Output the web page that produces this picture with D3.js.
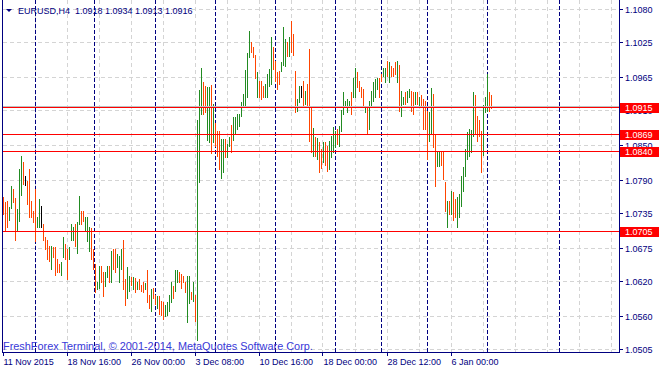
<!DOCTYPE html>
<html>
<head>
<meta charset="utf-8">
<script src="https://cdnjs.cloudflare.com/ajax/libs/d3/7.8.5/d3.min.js"></script>
<style>
body { margin: 0; background: #fff; }
svg { display: block; font-family: "Liberation Sans", Arial, sans-serif; }
</style>
</head>
<body>
<svg id="chart" width="659" height="373"></svg>
<script>
// EURUSD H4 bars, one entry per bar, oldest first
var highs = [
    1.0762, 1.0753, 1.0755, 1.0745, 1.0780, 1.0775, 1.0760, 1.0741, 1.0809, 1.0831,
    1.0821, 1.0797, 1.0789, 1.0809, 1.0755, 1.0738, 1.0775, 1.0728, 1.0758, 1.0746,
    1.0716, 1.0694, 1.0690, 1.0679, 1.0679, 1.0677, 1.0677, 1.0657, 1.0648, 1.0652,
    1.0694, 1.0682, 1.0674, 1.0677, 1.0716, 1.0712, 1.0716, 1.0719, 1.0763, 1.0738,
    1.0738, 1.0728, 1.0728, 1.0711, 1.0709, 1.0674, 1.0648, 1.0619, 1.0645, 1.0645,
    1.0635, 1.0636, 1.0645, 1.0645, 1.0670, 1.0674, 1.0674, 1.0665, 1.0663, 1.0674,
    1.0689, 1.0623, 1.0643, 1.0628, 1.0626, 1.0626, 1.0625, 1.0619, 1.0623, 1.0614,
    1.0618, 1.0616, 1.0638, 1.0597, 1.0606, 1.0609, 1.0596, 1.0594, 1.0594, 1.0586,
    1.0584, 1.0579, 1.0584, 1.0597, 1.0619, 1.0611, 1.0638, 1.0638, 1.0635, 1.0631,
    1.0628, 1.0618, 1.0628, 1.0628, 1.0601, 1.0618, 1.0597, 1.0893, 1.0943, 1.0981,
    1.0956, 1.0949, 1.0948, 1.0948, 1.0951, 1.0919, 1.0888, 1.0873, 1.0873, 1.0860,
    1.0860, 1.0860, 1.0851, 1.0863, 1.0883, 1.0897, 1.0897, 1.0902, 1.0902, 1.0922,
    1.0937, 1.0976, 1.1005, 1.1042, 1.1025, 1.1015, 1.1003, 1.0973, 1.0958, 1.0958,
    1.0949, 1.0953, 1.0970, 1.0978, 1.1032, 1.1015, 1.0992, 1.0973, 1.0975, 1.0990,
    1.1049, 1.1029, 1.1025, 1.1032, 1.1059, 1.1037, 1.0975, 1.0927, 1.0949, 1.0949,
    1.0958, 1.0941, 1.0953, 1.1012, 1.0914, 1.0878, 1.0863, 1.0861, 1.0855, 1.0843,
    1.0855, 1.0855, 1.0848, 1.0856, 1.0865, 1.0880, 1.0873, 1.0877, 1.0882, 1.0910,
    1.0939, 1.0924, 1.0927, 1.0924, 1.0939, 1.0964, 1.0981, 1.0973, 1.0958, 1.0948,
    1.0944, 1.0915, 1.0914, 1.0924, 1.0941, 1.0956, 1.0961, 1.0964, 1.0964, 1.0970,
    1.0981, 1.0981, 1.0992, 1.0990, 1.0983, 1.0981, 1.0990, 1.0992, 1.0986, 1.0941,
    1.0932, 1.0939, 1.0941, 1.0944, 1.0941, 1.0939, 1.0939, 1.0939, 1.0932, 1.0934,
    1.0927, 1.0924, 1.0907, 1.0905, 1.0946, 1.0936, 1.0868, 1.0839, 1.0838, 1.0838,
    1.0838, 1.0787, 1.0755, 1.0755, 1.0772, 1.0770, 1.0758, 1.0762, 1.0767, 1.0797,
    1.0812, 1.0843, 1.0872, 1.0877, 1.0875, 1.0939, 1.0934, 1.0899, 1.0892, 1.0873,
    1.0917, 1.0931, 1.0970, 1.0939, 1.0934
];
var lows = [
    1.0733, 1.0704, 1.0712, 1.0724, 1.0743, 1.0753, 1.0690, 1.0707, 1.0721, 1.0765,
    1.0784, 1.0782, 1.0750, 1.0729, 1.0729, 1.0719, 1.0687, 1.0712, 1.0712, 1.0712,
    1.0690, 1.0674, 1.0657, 1.0653, 1.0641, 1.0660, 1.0630, 1.0635, 1.0635, 1.0630,
    1.0660, 1.0657, 1.0623, 1.0657, 1.0689, 1.0690, 1.0679, 1.0668, 1.0716, 1.0716,
    1.0721, 1.0707, 1.0687, 1.0670, 1.0657, 1.0641, 1.0601, 1.0606, 1.0609, 1.0619,
    1.0594, 1.0611, 1.0626, 1.0619, 1.0619, 1.0641, 1.0636, 1.0643, 1.0619, 1.0640,
    1.0606, 1.0579, 1.0592, 1.0603, 1.0614, 1.0606, 1.0601, 1.0606, 1.0606, 1.0603,
    1.0601, 1.0606, 1.0584, 1.0575, 1.0569, 1.0591, 1.0581, 1.0575, 1.0564, 1.0562,
    1.0555, 1.0560, 1.0562, 1.0570, 1.0584, 1.0591, 1.0603, 1.0618, 1.0619, 1.0609,
    1.0618, 1.0601, 1.0550, 1.0582, 1.0589, 1.0586, 1.0552, 1.0521, 1.0787, 1.0902,
    1.0902, 1.0905, 1.0858, 1.0855, 1.0836, 1.0855, 1.0848, 1.0831, 1.0809, 1.0795,
    1.0804, 1.0829, 1.0829, 1.0848, 1.0839, 1.0858, 1.0868, 1.0877, 1.0882, 1.0899,
    1.0914, 1.0914, 1.0932, 1.0998, 1.1007, 1.0998, 1.0964, 1.0931, 1.0931, 1.0927,
    1.0931, 1.0932, 1.0932, 1.0949, 1.0953, 1.0978, 1.0958, 1.0944, 1.0953, 1.0975,
    1.0986, 1.0983, 1.1000, 1.1000, 1.1008, 1.1003, 1.0905, 1.0907, 1.0922, 1.0932,
    1.0915, 1.0919, 1.0914, 1.0856, 1.0839, 1.0831, 1.0831, 1.0826, 1.0804, 1.0811,
    1.0821, 1.0817, 1.0806, 1.0809, 1.0829, 1.0838, 1.0846, 1.0851, 1.0848, 1.0873,
    1.0902, 1.0914, 1.0905, 1.0917, 1.0902, 1.0931, 1.0932, 1.0948, 1.0941, 1.0931,
    1.0914, 1.0905, 1.0868, 1.0877, 1.0915, 1.0924, 1.0932, 1.0944, 1.0931, 1.0958,
    1.0966, 1.0956, 1.0966, 1.0956, 1.0966, 1.0966, 1.0970, 1.0956, 1.0907, 1.0899,
    1.0919, 1.0919, 1.0922, 1.0932, 1.0907, 1.0902, 1.0919, 1.0919, 1.0915, 1.0914,
    1.0877, 1.0877, 1.0826, 1.0856, 1.0868, 1.0846, 1.0780, 1.0814, 1.0814, 1.0817,
    1.0792, 1.0738, 1.0711, 1.0733, 1.0733, 1.0724, 1.0729, 1.0712, 1.0729, 1.0746,
    1.0772, 1.0797, 1.0826, 1.0831, 1.0839, 1.0865, 1.0868, 1.0856, 1.0865, 1.0804,
    1.0833, 1.0905, 1.0907, 1.0907, 1.0913
];
// u = up bar, d = down bar, n = unchanged
var barDir = ("ddduudduuu" + "dnddddduun" + "dddduddddu" + "udduuuduud" + "duuuddduud" +
    "duududduuu" + "dduudududd" + "dudduddudd" + "duuuuduudd" + "dduududuuu" +
    "dduududddu" + "uduuduuuuu" + "uuuudddudd" + "duuuuddddu" + "uududdduun" +
    "dudddududd" + "udduuuuduu" + "uuuuduuddd" + "duduuuuudd" + "uududddudu" +
    "uduuddudud" + "ddduudduud" + "ddududduuu" + "uuuuuudddd" + "uuudd").split("");

var priceTicks = [1.1080, 1.1025, 1.0965, 1.0910, 1.0850, 1.0790, 1.0735, 1.0675, 1.0620, 1.0560, 1.0505];
var timeLabels = ["11 Nov 2015", "18 Nov 16:00", "26 Nov 00:00", "3 Dec 08:00", "10 Dec 16:00", "18 Dec 00:00", "28 Dec 12:00", "6 Jan 00:00"];
var timeLabelBars = [0, 32, 64, 96, 128, 160, 192, 224];
var separatorBars = [16, 46, 76, 106, 136, 166, 189, 212, 242, 278];
var levelPrices = [1.0915, 1.0869, 1.0840, 1.0705];
var bidPrice = 1.0916;
var symbolName = "EURUSD,H4";
var lastOhlc = [1.0918, 1.0934, 1.0913, 1.0916];

var navy = "#000080";
var barColors = { u: "#228b22", d: "#ff4500", n: "#000000" };

var svg = d3.select("#chart");
var width = +svg.attr("width");

var x = d3.scaleLinear().domain([0, 308]).range([3, 619]);
var y = d3.scaleLinear().domain([1.0505, 1.1080]).range([349.5, 9.5]);

function px(v) { return Math.floor(v) + 0.5; }

var plotRight = 619, plotBottom = 352;

svg.append("rect").attr("width", width).attr("height", 373).attr("fill", "#fff");

// grid
svg.append("g").selectAll("line")
    .data(priceTicks)
    .enter().append("line")
    .attr("x1", 3).attr("x2", plotRight)
    .attr("y1", function(d) { return px(y(d)); })
    .attr("y2", function(d) { return px(y(d)); })
    .attr("stroke", "#d4d4d4")
    .attr("stroke-dasharray", "4,3");

svg.append("g").selectAll("line")
    .data(d3.range(16, 308, 16))
    .enter().append("line")
    .attr("x1", function(d) { return px(x(d)); })
    .attr("x2", function(d) { return px(x(d)); })
    .attr("y1", 0).attr("y2", plotBottom)
    .attr("stroke", "#d4d4d4")
    .attr("stroke-dasharray", "4,3");

// period separators
svg.append("g").selectAll("line")
    .data(separatorBars)
    .enter().append("line")
    .attr("x1", function(d) { return px(x(d)); })
    .attr("x2", function(d) { return px(x(d)); })
    .attr("y1", 0).attr("y2", plotBottom)
    .attr("stroke", navy)
    .attr("stroke-dasharray", "4,2");

// bars (high-low)
svg.append("g").selectAll("rect")
    .data(highs)
    .enter().append("rect")
    .attr("x", function(d, i) { return x(i); })
    .attr("width", 1)
    .attr("y", function(d) { return Math.floor(y(d)); })
    .attr("height", function(d, i) { return Math.floor(y(lows[i])) - Math.floor(y(d)) + 1; })
    .attr("fill", function(d, i) { return barColors[barDir[i]]; });

// bid line + horizontal levels
svg.append("line")
    .attr("x1", 3).attr("x2", plotRight)
    .attr("y1", px(y(bidPrice))).attr("y2", px(y(bidPrice)))
    .attr("stroke", "#c0c0c0");

svg.append("g").selectAll("line")
    .data(levelPrices)
    .enter().append("line")
    .attr("x1", 3).attr("x2", plotRight)
    .attr("y1", function(d) { return px(y(d)); })
    .attr("y2", function(d) { return px(y(d)); })
    .attr("stroke", "#ff0000");

// frame
svg.append("path")
    .attr("d", "M2.5,0V" + (plotBottom + 1) + "M2," + (plotBottom + 0.5) + "H" + (plotRight + 1) + "M" + (plotRight + 0.5) + ",0V" + (plotBottom + 1))
    .attr("stroke", navy)
    .attr("fill", "none");

// price axis
svg.append("g").selectAll("line")
    .data(priceTicks)
    .enter().append("line")
    .attr("x1", plotRight + 1).attr("x2", plotRight + 4)
    .attr("y1", function(d) { return px(y(d)); })
    .attr("y2", function(d) { return px(y(d)); })
    .attr("stroke", navy);

svg.append("g").selectAll("text")
    .data(priceTicks)
    .enter().append("text")
    .attr("x", 625)
    .attr("y", function(d) { return Math.floor(y(d)) + 3.5; })
    .attr("font-size", "9px")
    .attr("fill", navy)
    .text(function(d) { return d.toFixed(4); });

// level labels
var box = svg.append("g").selectAll("g")
    .data(levelPrices)
    .enter().append("g");

box.append("rect")
    .attr("x", plotRight + 1)
    .attr("y", function(d) { return Math.floor(y(d)) - 4; })
    .attr("width", width - plotRight - 1)
    .attr("height", 10)
    .attr("fill", "#ff0000");

box.append("text")
    .attr("x", 625)
    .attr("y", function(d) { return Math.floor(y(d)) + 3.5; })
    .attr("font-size", "9px")
    .attr("fill", "#fff")
    .text(function(d) { return d.toFixed(4); });

// time axis
svg.append("g").selectAll("line")
    .data(timeLabelBars)
    .enter().append("line")
    .attr("x1", function(d) { return px(x(d)); })
    .attr("x2", function(d) { return px(x(d)); })
    .attr("y1", plotBottom + 1).attr("y2", plotBottom + 4)
    .attr("stroke", navy);

svg.append("g").selectAll("text")
    .data(timeLabels)
    .enter().append("text")
    .attr("x", function(d, i) { return x(timeLabelBars[i]) + 0.5; })
    .attr("y", 364.5)
    .attr("font-size", "9px")
    .attr("fill", navy)
    .text(function(d) { return d; });

// header
svg.append("path")
    .attr("d", "M6,9L12,9L9,12Z")
    .attr("fill", navy);

svg.append("text")
    .attr("x", 18).attr("y", 13.5)
    .attr("font-size", "9px")
    .attr("fill", navy)
    .style("white-space", "pre")
    .text(symbolName + "  " + lastOhlc.map(function(v) { return v.toFixed(4); }).join(" "));

svg.append("text")
    .attr("x", 3).attr("y", 349.5)
    .attr("font-size", "10.9px")
    .attr("fill", "#3838d8")
    .text("FreshForex Terminal, \u00a9 2001-2014, MetaQuotes Software Corp.");
</script>
</body>
</html>
